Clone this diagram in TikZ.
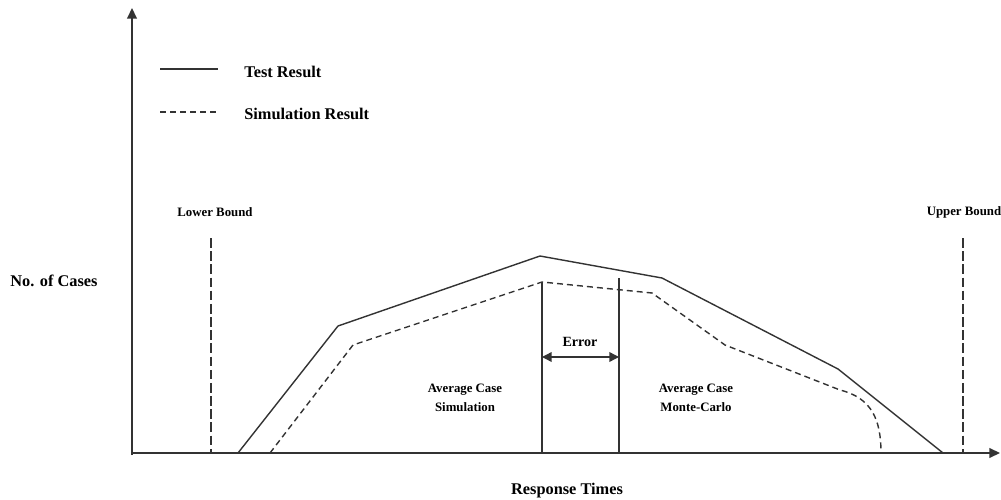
\documentclass[tikz,border=0pt]{standalone}
\usepackage{fontspec}
\setmainfont{Liberation Serif}
\usetikzlibrary{arrows.meta}
\begin{document}
\begin{tikzpicture}[x=0.02cm,y=-0.02cm,
  ln/.style={line width=0.8pt,draw=black!80},
  dsh/.style={ln,dash pattern=on 3.4pt off 2.3pt},
  bnd/.style={ln,dash pattern=on 5.5pt off 2pt},
  big/.style={font=\fontsize{9.3}{11}\selectfont\bfseries,inner sep=0pt},
  small/.style={font=\fontsize{7.3}{10.5}\selectfont\bfseries,inner sep=0pt,align=center},
  tip/.style={-{Triangle[length=6pt,width=5.5pt]}}]
\useasboundingbox (0,0) rectangle (1001,500);
% axes
\coordinate (O) at (132,453);
\coordinate (yt) at (132,8);
\coordinate (xt) at (1000,453);
\draw[ln,tip] (132,455) -- (yt);
\draw[ln,tip] (O) -- (xt);
% legend
\coordinate (l1a) at (160,69); \coordinate (l1b) at (218,69);
\coordinate (l2a) at (160,112); \coordinate (l2b) at (216,112);
\draw[ln] (l1a) -- (l1b);
\draw[dsh] (l2a) -- (l2b);
\node[big,anchor=west] (tr) at (244,72) {Test Result};
\node[big,anchor=west] (sr) at (244,114) {Simulation Result};
% axis labels
\node[big] (nc) at (54,281) {No. of Cases};
\node[big] (rt) at (567,491) {Response Times};
% bounds
\node[small] (lb) at (215,212) {Lower Bound};
\node[small] (ub) at (964,212) {Upper Bound};
\coordinate (lbt) at (211,238); \coordinate (lbb) at (211,453);
\coordinate (ubt) at (963,238); \coordinate (ubb) at (963,453);
\draw[bnd] (lbt) -- (lbb);
\draw[bnd] (ubt) -- (ubb);
% test result curve
\draw[ln] (238,453) -- (338,326) -- (540,256) -- (662,278) -- (838,369) -- (943,453);
% simulation curve
\draw[dsh] (270,453) -- (353,345) -- (542,282) -- (652,293) -- (725,345) -- (840,390)
  .. controls (872,398) and (881,420) .. (881,453);
% average lines
\coordinate (s1) at (542,282); \coordinate (s1b) at (542,453);
\coordinate (m1) at (619,278); \coordinate (m1b) at (619,453);
\draw[ln] (s1) -- (s1b);
\draw[ln] (m1) -- (m1b);
\draw[ln,{Triangle[length=5.5pt,width=5.5pt]}-{Triangle[length=5.5pt,width=5.5pt]}] (542,357) -- (619,357);
\node[small,font=\fontsize{8}{10}\selectfont\bfseries] (err) at (580,342) {Error};
\node[small] (avs) at (465,398) {Average Case\\Simulation};
\node[small] (avm) at (696,398) {Average Case\\Monte-Carlo};
\end{tikzpicture}
\end{document}
